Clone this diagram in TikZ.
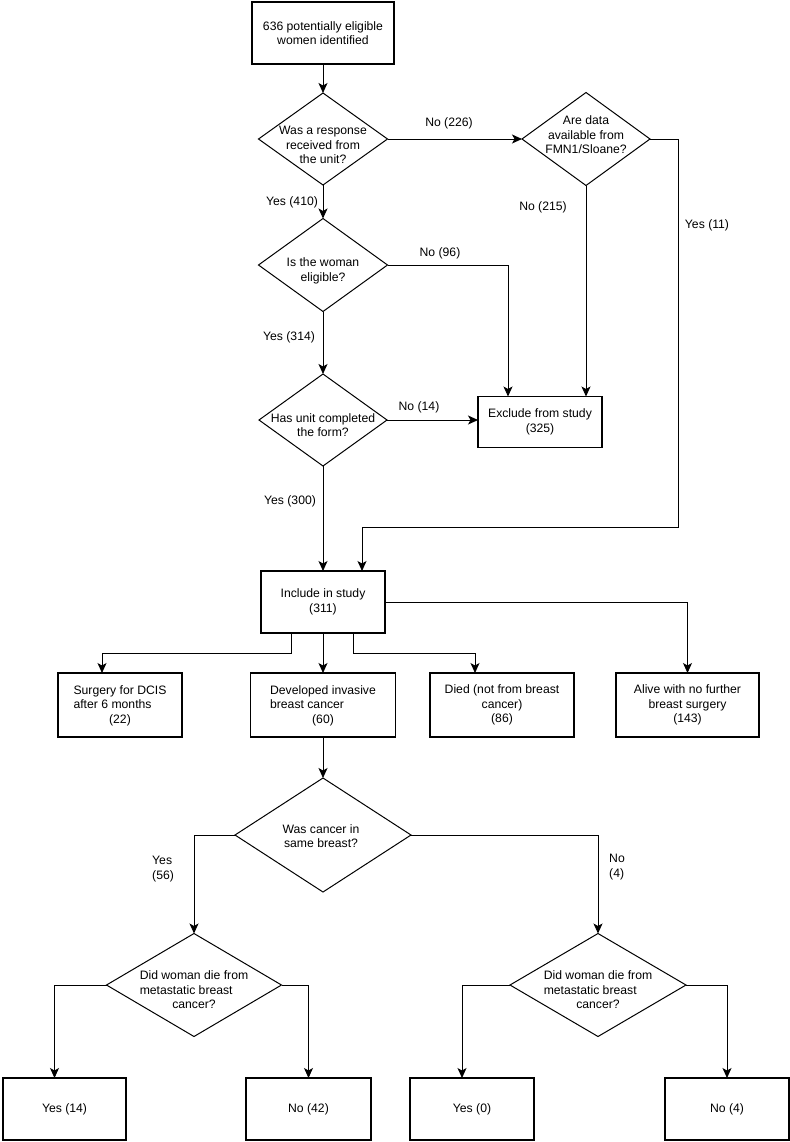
\documentclass[tikz,border=0pt]{standalone}
\usepackage{fontspec}
\setmainfont{Liberation Sans}
\usetikzlibrary{
  arrows.meta,
  shapes.geometric,
  calc
}

\begin{document}
\begin{tikzpicture}[x=1bp, y=-1bp,
  every node/.style={font=\fontsize{12.2bp}{14.5bp}\selectfont},
  box/.style={draw, line width=1.1bp, inner sep=0pt, outer sep=0pt, align=center},
  decision/.style={draw, diamond, line width=1bp, inner sep=0pt, outer sep=0pt},
  qtext/.style={align=center, inner sep=0pt},
  flow/.style={-{Stealth[length=10bp, width=9bp, inset=2.5bp]}, line width=0.9bp},
  lbl/.style={inner sep=0pt, align=left}]
  \useasboundingbox (0,0) rectangle (790,1142);

  % screening
  \node[box, minimum width=142bp, minimum height=62bp] (top) at (323,33) {636 potentially eligible\\women identified};
  \node[decision, minimum width=129bp, minimum height=92bp] (q1) at (323,139) {};
  \node[qtext] (q1t) at (323,145) {Was a response\\received from\\the unit?};
  \node[decision, minimum width=128bp, minimum height=93bp] (q2) at (586,139) {};
  \node[qtext] (q2t) at (586,135) {Are data\\available from\\FMN1/Sloane?};
  \node[decision, minimum width=129bp, minimum height=93bp] (q3) at (323,265) {};
  \node[qtext] (q3t) at (323,271) {Is the woman\\eligible?};
  \node[decision, minimum width=128bp, minimum height=92bp] (q4) at (323,420) {};
  \node[qtext] (q4t) at (323,425) {Has unit completed\\the form?};
  \node[box, minimum width=124bp, minimum height=51bp] (ex) at (540,422) {Exclude from study\\(325)};
  \node[box, minimum width=124bp, minimum height=62bp] (inc) at (323,602) {Include in study\\(311)};

  % outcomes
  \node[box, minimum width=124bp, minimum height=64bp] (sur) at (120,705)
    {\begin{tabular}{@{}l@{}}Surgery for DCIS\\after 6 months\end{tabular}\\(22)};
  \node[box, minimum width=145bp, minimum height=64bp] (dev) at (323,705)
    {\begin{tabular}{@{}l@{}}Developed invasive\\breast cancer\end{tabular}\\(60)};
  \node[box, minimum width=144bp, minimum height=64bp] (died) at (502,705) {Died (not from breast\\cancer)\\(86)};
  \node[box, minimum width=143bp, minimum height=64bp] (alv) at (687.5,705) {Alive with no further\\breast surgery\\(143)};

  \node[decision, minimum width=176bp, minimum height=114bp] (q5) at (323,835) {};
  \node[qtext] (q5t) at (321,836) {Was cancer in\\same breast?};
  \node[decision, minimum width=175bp, minimum height=103bp] (q6) at (194,985) {};
  \node[qtext] (q6t) at (194,989) {\begin{tabular}{@{}l@{}}Did woman die from\\metastatic breast\end{tabular}\\cancer?};
  \node[decision, minimum width=176bp, minimum height=103bp] (q7) at (598,985) {};
  \node[qtext] (q7t) at (598,989) {\begin{tabular}{@{}l@{}}Did woman die from\\metastatic breast\end{tabular}\\cancer?};

  \node[box, minimum width=123bp, minimum height=62bp] (y14) at (64.5,1109) {Yes (14)};
  \node[box, minimum width=125bp, minimum height=62bp] (n42) at (308.5,1109) {No (42)};
  \node[box, minimum width=124bp, minimum height=62bp] (y0) at (472,1109) {Yes (0)};
  \node[box, minimum width=124bp, minimum height=62bp] (n4) at (727,1109) {No (4)};

  % branch labels
  \node[lbl] (l226) at (449,123) {No (226)};
  \node[lbl] (l215) at (543,207) {No (215)};
  \node[lbl] (l11) at (707,225) {Yes (11)};
  \node[lbl] (l410) at (292,202) {Yes (410)};
  \node[lbl] (l96) at (440,253) {No (96)};
  \node[lbl] (l314) at (289,337) {Yes (314)};
  \node[lbl] (l14) at (419,407) {No (14)};
  \node[lbl] (l300) at (290,501) {Yes (300)};
  \node[lbl, anchor=west] (l56) at (152,869) {Yes\\(56)};
  \node[lbl, anchor=west] (l4) at (609,867) {No\\(4)};

  % connectors
  \draw[flow] (top) -- (q1);
  \draw[flow] (q1) -- (q2);
  \draw[flow] (q1) -- (q3);
  \draw[flow] (q3) -- (q4);
  \draw[flow] (q4) -- (inc);
  \draw[flow] (q2) -- (q2 |- ex.north);
  \draw[flow] (q3.east) -| ($(ex.north west)+(30,0)$);
  \draw[flow] (q4.east) -- (q4.east -| ex.west);
  \draw[flow] (q2.east) -- ++(28,0) |- ($(inc.north)+(39,-44)$) -- ($(inc.north)+(39,0)$);

  \draw[flow] ($(inc.south)+(-32,0)$) -- ++(0,20) -| ($(sur.north)+(-18,0)$);
  \draw[flow] (inc) -- (dev);
  \draw[flow] ($(inc.south)+(30,0)$) -- ++(0,20) -| ($(died.north)+(-27,0)$);
  \draw[flow] (inc.east) -| (alv.north);
  \draw[flow] (dev) -- (q5);
  \draw[flow] (q5.west) -| (q6.north);
  \draw[flow] (q5.east) -| (q7.north);
  \draw[flow] (q6.west) -| ($(y14.north)+(-10,0)$);
  \draw[flow] (q6.east) -| (n42.north);
  \draw[flow] (q7.west) -| ($(y0.north)+(-10,0)$);
  \draw[flow] (q7.east) -| (n4.north);
\end{tikzpicture}
\end{document}
